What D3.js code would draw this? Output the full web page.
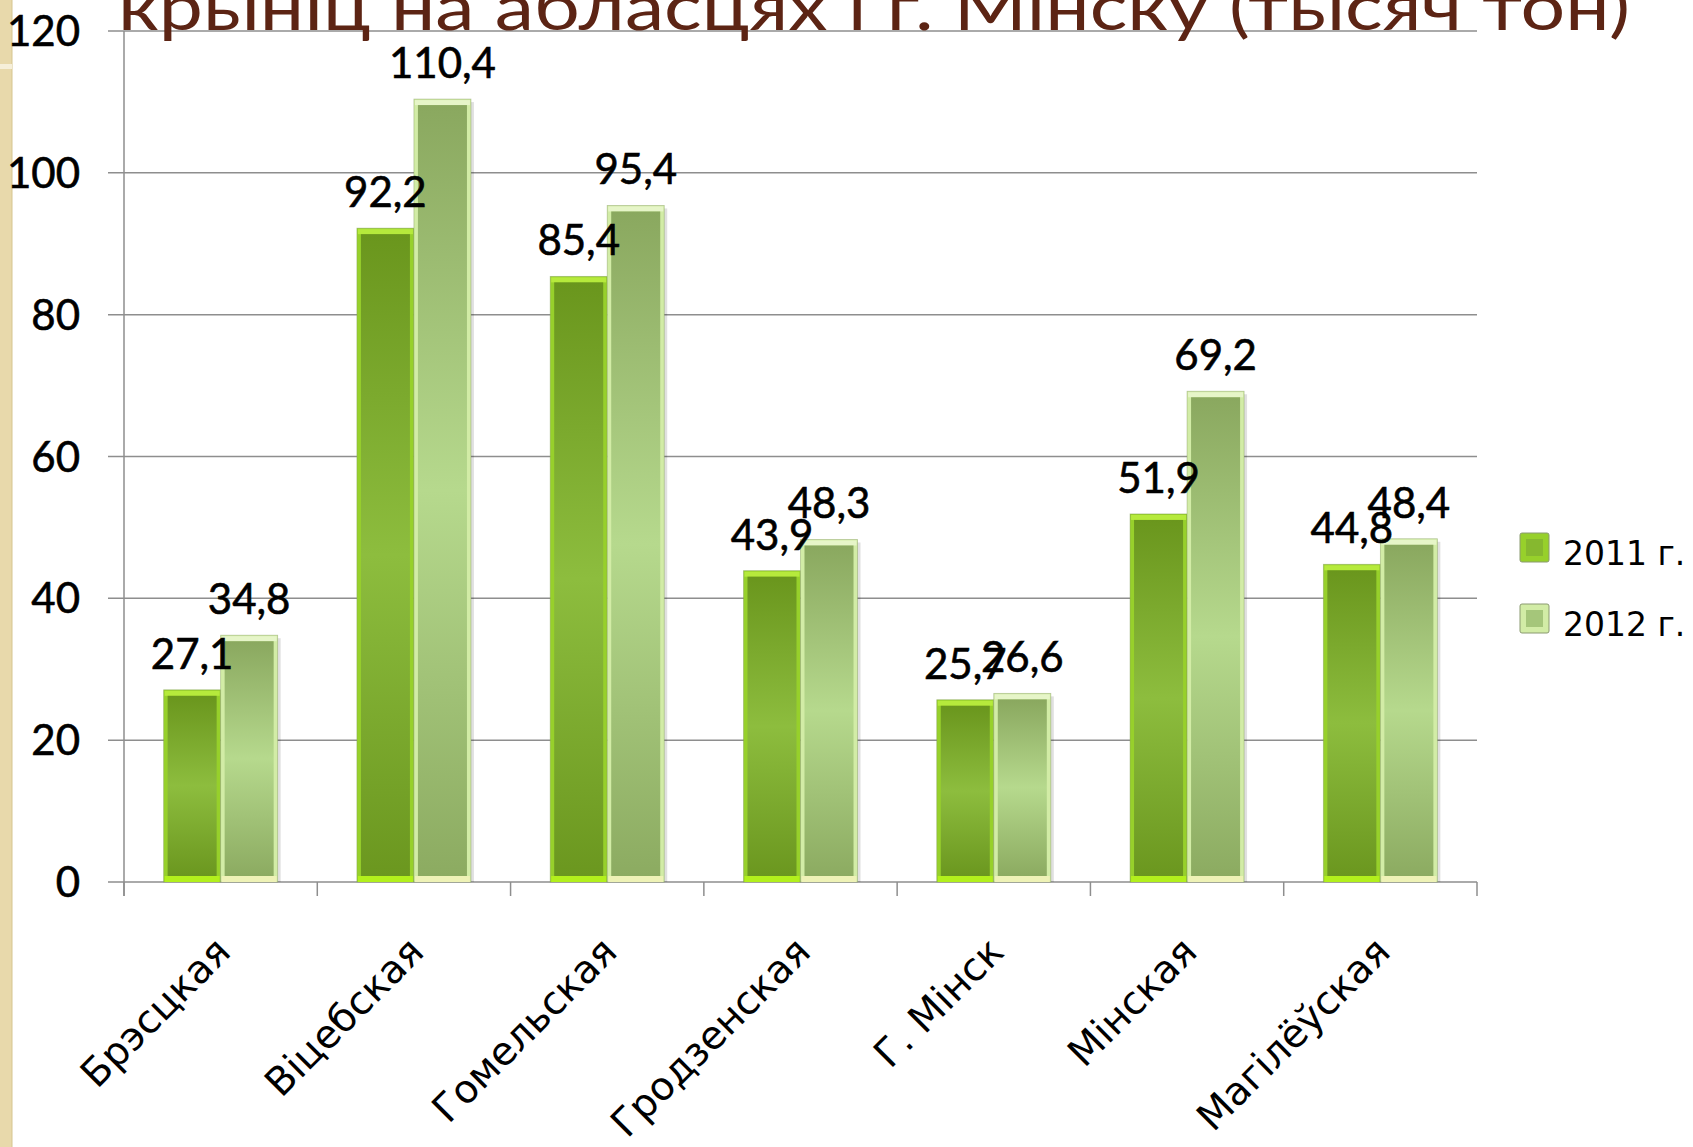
<!DOCTYPE html>
<html>
<head>
<meta charset="utf-8">
<script src="https://cdn.jsdelivr.net/npm/d3@7"></script>
<style>
    html, body { margin: 0; padding: 0; background: #fff; overflow: hidden; }
    svg { display: block; }
</style>
</head>
<body>
<div class="Canvas"></div>
<script>
// chart data
const regions = ['Брэсцкая', 'Віцебская', 'Гомельская', 'Гродзенская', 'Г. Мінск', 'Мінская', 'Магілёўская'];
const years = ['2011 г.', '2012 г.'];
const values2011 = [27.1, 92.2, 85.4, 43.9, 25.7, 51.9, 44.8];
const values2012 = [34.8, 110.4, 95.4, 48.3, 26.6, 69.2, 48.4];
const yTicks = [0, 20, 40, 60, 80, 100, 120];
const titleText = 'крыніц на абласцях і г. Мінску (тысяч тон)';

const width = 1693;
const height = 1147;
const plotLeft = 124;
const plotRight = 1477;
const plotTop = 31;
const plotBottom = 882;

const svg = d3.select('.Canvas').append('svg').attr('width', width).attr('height', height);

// left decorative strip of the slide
svg.append('rect').attr('x', 0).attr('y', 0).attr('width', 12).attr('height', height).attr('fill', '#e8d9ab');
svg.append('line').attr('x1', 12).attr('x2', 12).attr('y1', 0).attr('y2', height).attr('stroke', '#d6c58f').attr('stroke-width', 1);
svg.append('rect').attr('x', 0).attr('y', 64).attr('width', 12).attr('height', 5).attr('fill', '#f6efd9');

// gradients for the bevelled bars
const defs = svg.append('defs');
function addGradient(id, stops) {
    let g = defs.append('linearGradient').attr('id', id).attr('x1', 0).attr('x2', 0).attr('y1', 0).attr('y2', 1);
    stops.forEach((s) => g.append('stop').attr('offset', s[0]).attr('stop-color', s[1]));
}
addGradient('fill2011', [['0%', '#6a961d'], ['50%', '#8dbd3e'], ['100%', '#6b971f']]);
addGradient('fill2012', [['0%', '#8aa85f'], ['50%', '#b6d98d'], ['100%', '#8cab61']]);

const styles = [
    { fill: 'url(#fill2011)', edge: '#97d02b', top: '#b6ea3c', bottom: '#b2f01c', swatch: '#86b82f' },
    { fill: 'url(#fill2012)', edge: '#d2eca6', top: '#e6f5c8', bottom: '#eef2b6', swatch: '#a5c67a' },
];

// scales
const x = d3.scaleBand().domain(regions).range([plotLeft, plotRight]).paddingInner(0.41).paddingOuter(0.205);
const xInner = d3.scaleBand().domain(years).range([0, x.bandwidth()]);
const y = d3.scaleLinear().domain([0, 120]).range([plotBottom, plotTop]);
const step = x.step();

// gridlines
svg.append('g')
    .selectAll('line')
    .data(yTicks)
    .enter()
    .append('line')
    .attr('x1', plotLeft - 16)
    .attr('x2', plotRight)
    .attr('y1', (d) => y(d))
    .attr('y2', (d) => y(d))
    .attr('stroke', '#8e8e8e')
    .attr('stroke-width', 1.5);

// y axis line
svg.append('line')
    .attr('x1', plotLeft).attr('x2', plotLeft)
    .attr('y1', plotTop).attr('y2', plotBottom + 14)
    .attr('stroke', '#8e8e8e').attr('stroke-width', 1.5);

// x axis ticks at category boundaries
svg.append('g')
    .selectAll('line')
    .data(d3.range(regions.length + 1))
    .enter()
    .append('line')
    .attr('x1', (i) => plotLeft + i * step)
    .attr('x2', (i) => plotLeft + i * step)
    .attr('y1', plotBottom)
    .attr('y2', plotBottom + 14)
    .attr('stroke', '#8e8e8e')
    .attr('stroke-width', 1.5);

// y tick labels
svg.append('g')
    .selectAll('text')
    .data(yTicks)
    .enter()
    .append('text')
    .attr('x', 80)
    .attr('y', (d) => y(d))
    .attr('dy', '0.36em')
    .attr('text-anchor', 'end')
    .attr('font-family', 'Lato, sans-serif')
    .attr('font-size', '42px')
    .attr('fill', '#000')
    .attr('stroke', '#000')
    .attr('stroke-width', 0.6)
    .text((d) => d);

// bars
const series = [values2011, values2012];
const barData = [];
regions.forEach((r, i) => {
    years.forEach((yr, s) => {
        barData.push({ region: r, year: yr, s: s, value: series[s][i] });
    });
});

const bars = svg.append('g')
    .selectAll('g.bar')
    .data(barData)
    .enter()
    .append('g')
    .attr('class', 'bar');

const bx = (d) => x(d.region) + xInner(d.year);
const bw = xInner.bandwidth();

// soft shadow on the right
bars.append('rect')
    .attr('x', (d) => bx(d) + 3)
    .attr('y', (d) => y(d.value) + 3)
    .attr('width', bw)
    .attr('height', (d) => plotBottom - y(d.value) - 3)
    .attr('fill', '#000')
    .attr('opacity', 0.12);
bars.append('rect')
    .attr('x', bx)
    .attr('y', (d) => y(d.value))
    .attr('width', bw)
    .attr('height', (d) => plotBottom - y(d.value))
    .attr('fill', (d) => styles[d.s].edge)
    .attr('stroke', '#7f9a55')
    .attr('stroke-opacity', 0.5)
    .attr('stroke-width', 0.8);
bars.append('rect')
    .attr('x', (d) => bx(d) + 1)
    .attr('y', (d) => y(d.value) + 1)
    .attr('width', bw - 2)
    .attr('height', 5)
    .attr('fill', (d) => styles[d.s].top);
bars.append('rect')
    .attr('x', (d) => bx(d) + 1)
    .attr('y', plotBottom - 6)
    .attr('width', bw - 2)
    .attr('height', 6)
    .attr('fill', (d) => styles[d.s].bottom);
bars.append('rect')
    .attr('x', (d) => bx(d) + 4)
    .attr('y', (d) => y(d.value) + 6)
    .attr('width', bw - 8)
    .attr('height', (d) => Math.max(0, plotBottom - y(d.value) - 12))
    .attr('fill', (d) => styles[d.s].fill);

// value labels
svg.append('g')
    .selectAll('text')
    .data(barData)
    .enter()
    .append('text')
    .attr('x', (d) => bx(d) + bw / 2)
    .attr('y', (d) => y(d.value) - 21)
    .attr('text-anchor', 'middle')
    .attr('font-family', 'Lato, sans-serif')
    .attr('font-size', '42px')
    .attr('fill', '#000')
    .attr('stroke', '#000')
    .attr('stroke-width', 0.6)
    .text((d) => d3.format('.1f')(d.value).replace('.', ','));

// category labels
svg.append('g')
    .selectAll('text')
    .data(regions)
    .enter()
    .append('text')
    .attr('transform', (d) => `translate(${x(d) + x.bandwidth() / 2 + 12}, 954) rotate(-45)`)
    .attr('text-anchor', 'end')
    .attr('font-family', 'DejaVu Sans, sans-serif')
    .attr('font-size', '39px')
    .attr('fill', '#000')
    .text((d) => d);

// legend
const legend = svg.append('g')
    .selectAll('g')
    .data(years)
    .enter()
    .append('g')
    .attr('transform', (d, i) => `translate(1520, ${533 + i * 71})`);
legend.append('rect')
    .attr('width', 29).attr('height', 29)
    .attr('fill', (d, i) => styles[i].edge)
    .attr('stroke', '#8a9a70').attr('stroke-width', 1).attr('rx', 2);
legend.append('rect')
    .attr('x', 6).attr('y', 6).attr('width', 17).attr('height', 17)
    .attr('fill', (d, i) => styles[i].swatch);
legend.append('text')
    .attr('x', 43)
    .attr('y', 32)
    .attr('font-family', 'DejaVu Sans, sans-serif')
    .attr('font-size', '33px')
    .attr('fill', '#000')
    .text((d) => d);

// slide title, only its lower part is visible
svg.append('text')
    .attr('x', 118)
    .attr('y', 30)
    .attr('textLength', 1512)
    .attr('lengthAdjust', 'spacingAndGlyphs')
    .attr('font-family', 'Lato, sans-serif')
    .attr('font-size', '66px')
    .attr('fill', '#5c2414')
    .text(titleText);
</script>
</body>
</html>
